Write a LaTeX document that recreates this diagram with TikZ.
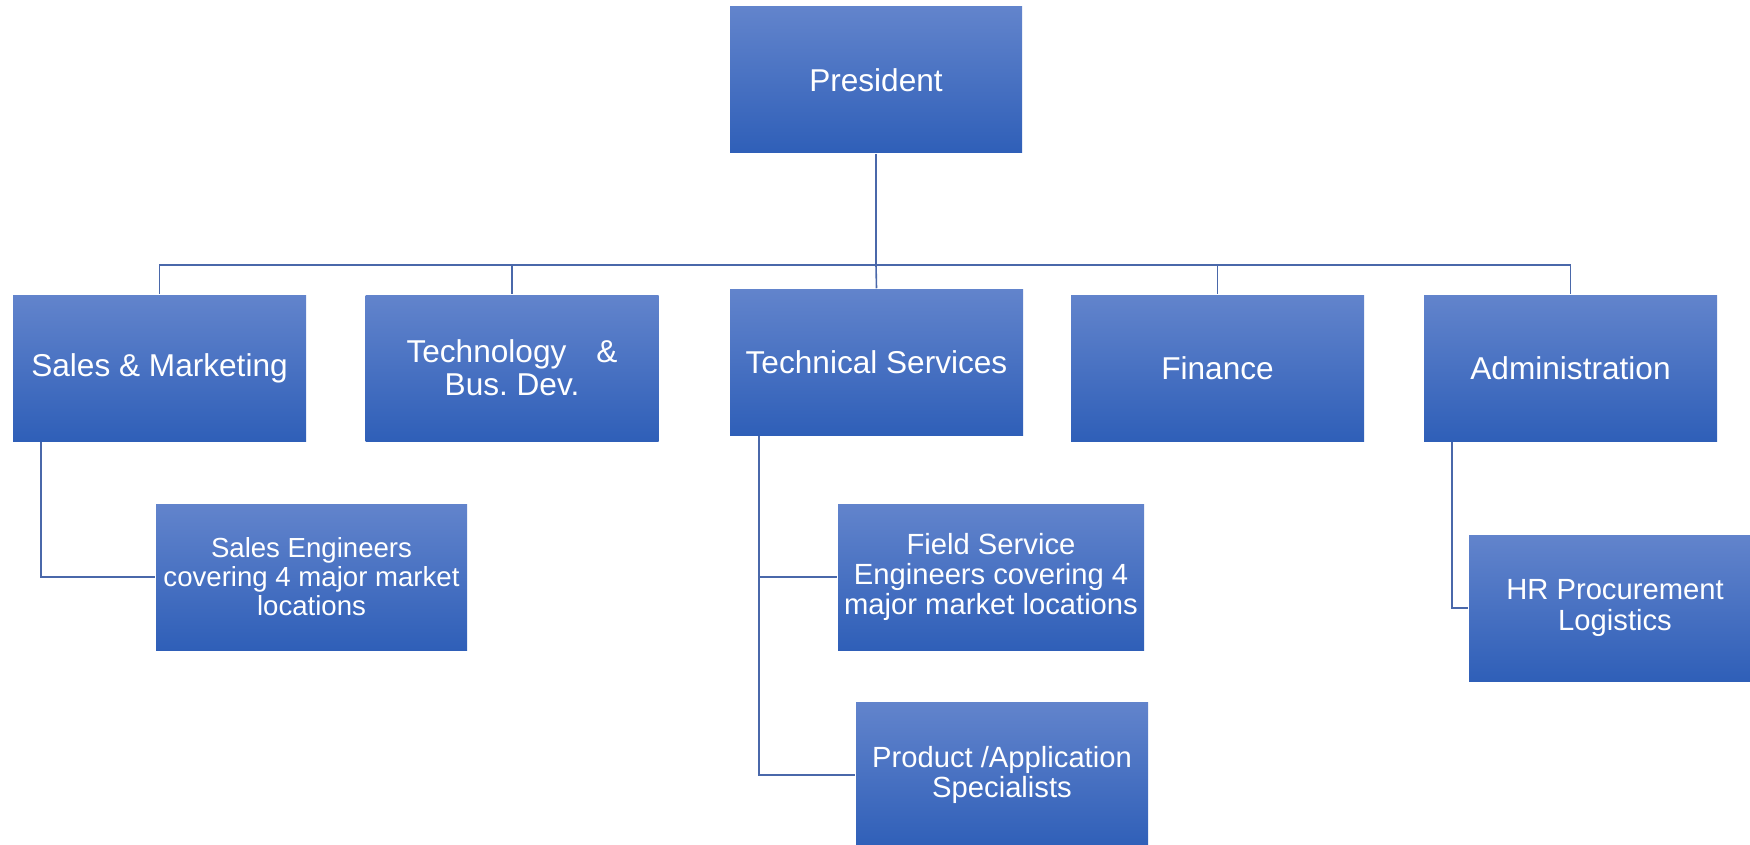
\documentclass[tikz,border=0pt]{standalone}
\usepackage{fontspec}
\setmainfont{Liberation Sans}

\definecolor{boxtop}{RGB}{98,132,204}
\definecolor{boxmid}{RGB}{68,114,196}
\definecolor{boxbot}{RGB}{47,95,184}
\definecolor{linkblue}{RGB}{74,104,170}

\tikzset{every picture/.style={line width=0.75pt}}
\tikzset{
  orgbox/.style={rectangle, draw=none, top color=boxtop, middle color=boxmid, bottom color=boxbot,
    text=white, align=center, inner sep=0pt, minimum width=146.5pt, minimum height=73pt},
  bigtext/.style={font=\fontsize{15.8}{16.4}\selectfont},
  subtext/.style={font=\fontsize{14.6}{15.2}\selectfont},
  link/.style={draw=linkblue, line width=0.8pt}
}

\begin{document}
\frenchspacing
\begin{tikzpicture}[x=0.5pt,y=0.5pt,yscale=-1,xscale=1]
				\useasboundingbox (0,0) rectangle (1750,845);
				%Shape: Rectangle [president]
				\node (pres) at (876,80) [orgbox, bigtext, minimum width=146pt] {President};
				%Shape: Rectangle [second row]
				\node (sales) at (159.5,368) [orgbox, bigtext] {Sales \& Marketing};
				\node (techdev) at (512,368) [orgbox, bigtext] {Technology\hspace{15pt}\&\\Bus.\ Dev.};
				\node (techsrv) at (876.5,362) [orgbox, bigtext] {Technical Services};
				\node (finance) at (1217.5,368) [orgbox, bigtext] {Finance};
				\node (admin) at (1570.5,368) [orgbox, bigtext] {Administration};
				%Shape: Rectangle [third row]
				\node (saleseng) at (311.5,577) [orgbox, font=\fontsize{13.8}{14.5}\selectfont, minimum width=155.5pt] {Sales Engineers\\covering 4 major market\\locations};
				\node (field) at (991,577) [orgbox, subtext, minimum width=153pt] {Field Service\\Engineers covering 4\\major market locations};
				\node (prod) at (1002,775) [orgbox, subtext, minimum width=146pt] {Product /Application\\Specialists};
				\node (hr) at (1615,608) [orgbox, subtext, minimum width=146pt] {HR Procurement\\Logistics};

				% Connector: president to bus
				\coordinate (bus) at (876,265);
				\draw [link] (pres.south) -- (bus);
				\draw [link] (bus) -| (sales.north);
				\draw [link] (bus) -| (techdev.north);
				\draw [link] (bus) -- (techsrv.north);
				\draw [link] (bus) -| (finance.north);
				\draw [link] (bus) -| (admin.north);
				% Connector: sub units
				\draw [link] ([xshift=14.5pt]sales.south west) |- (saleseng.west);
				\draw [link] ([xshift=15pt]techsrv.south west) |- (field.west);
				\draw [link] ([xshift=15pt]techsrv.south west) |- (prod.west);
				\draw [link] ([xshift=14.5pt]admin.south west) |- (hr.west);
			\end{tikzpicture}
\end{document}
